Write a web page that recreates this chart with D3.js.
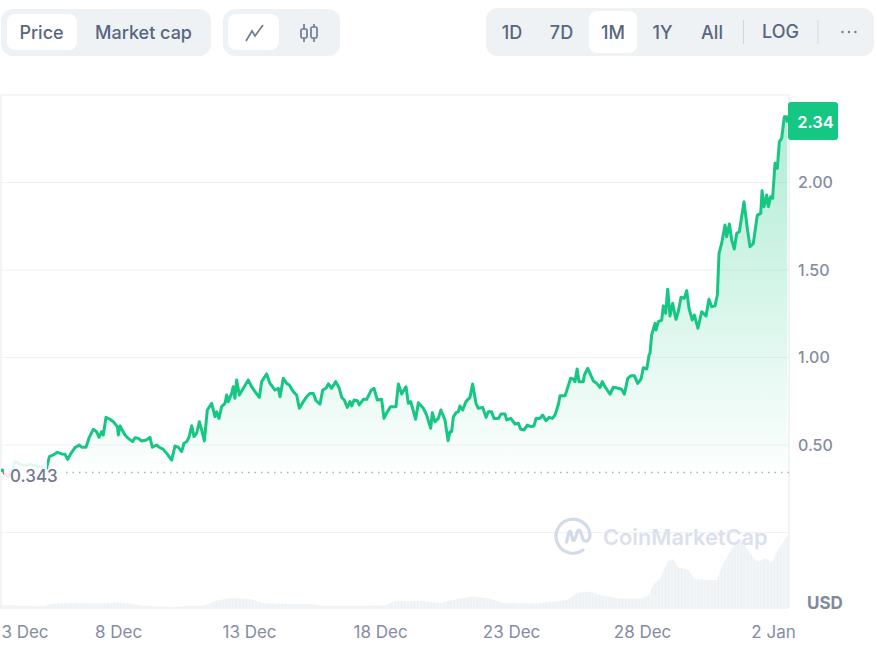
<!DOCTYPE html>
<html>
<head>
<meta charset="utf-8">
<title>price chart</title>
<style>
    html, body { margin: 0; padding: 0; background: #fff; }
    svg { display: block; font-family: Inter, "Noto Sans", sans-serif; }
    .btn { font-size: 18px; font-weight: 500; fill: #58667e; text-anchor: middle; dominant-baseline: central; }
    .tick text { font-family: Inter, "Noto Sans", sans-serif; fill: #858ca2; }
    .tick line, .domain { display: none; }
</style>
</head>
<body>
<svg id="chart" width="877" height="664"></svg>
<script src="https://cdn.jsdelivr.net/npm/d3@7"></script>
<script>
// hours since 3 Dec 00:00
var priceHours = [12,14.3,16.5,19.5,22.6,25.6,30.2,34.8,39.4,44,50,54.6,
    57.1,60.8,64.4,68.4,71.4,73.9,76.9,80.6,84.6,86.7,90.7,93.7,97.4,100.4,102.6,105,106.5,109,112.6,115.7,119.4,120.3,121.8,126.4,129.4,133.4,135.5,138.6,141.7,146.2,149.3,151.4,155.4,157.8,161.5,164.6,169.1,172.2,175.2,178.3,180.4,182.9,185,187.5,189.6,192,194.5,196.6,199.1,201.8,205.8,208.8,210.3,212.5,214.9,218,219.5,221,224.1,225.6,227.1,228.7,231.1,234.8,239.3,242.4,245.5,249.4,251.6,256.1,259.2,263.8,266.8,268.4,271.4,274.5,276.9,280.6,283.6,286.1,
    289.8,292.8,295.9,298.9,301.4,305,307.5,310.5,312.7,315.7,319.4,322.7,324.9,327.3,330,332.5,334,336.2,339.2,341,344.7,347.8,351.7,354.5,357.5,361.5,363.6,366.7,369.7,374.6,376.8,379.8,383.8,385.9,388.1,392.6,395.1,399.7,402.7,403.6,406.4,407.9,410.3,413.4,415.8,419.5,422.3,424.1,425.6,427.1,429.6,431.7,433.2,435.7,438.7,442.4,444.8,447.9,450,454,457.1,459.2,462.2,464.4,468.4,470.8,474.5,476,479.7,483.6,486.7,488.8,491.9,494.9,498,501,502.9,506.5,509,512,515,517.8,520.3,
    523.4,524.9,529.5,531.9,534.6,537.1,538.6,540.5,542.3,546.2,547.2,550.2,553,555.4,558.5,561.5,563.6,566.1,570.7,573.7,578.3,581.4,583.8,586.9,589.9,593,596,599.1,601.2,604.3,606.4,
    607.3,608.8,611.9,612.8,614.9,618,619.5,621.6,623.5,625.6,628,631.1,633.2,635.7,638.7,640.9,643,646,647.9,651.2,654.6,658.6,661.3,663.8,666.8,669,670.5,
    672.9,676,677.5,680,682.1,684.5,686.7,689.1,693.4,696.4,698.9,701.9,705.6,708.7,709.9,711.7,714.2,715.7,717.8,719.6,721.8,723.9,725.8,727.9,730.3,732.5,733.1];
var priceValues = [.352,.357,.334,.319,.348,.405,.391,.38,.391,.38,.376,.367,
    .433,.443,.458,.449,.447,.418,.452,.485,.5,.487,.487,.544,.59,.576,.544,.576,.557,.658,.647,.633,.605,.557,.609,.557,.538,.519,.542,.538,.523,.529,.544,.487,.5,.487,.475,.452,.414,.494,.487,.462,.51,.519,.544,.61,.548,.567,.633,.586,.523,.7,.738,.662,.69,.652,.719,.738,.786,.748,.795,.833,.767,.871,.786,.824,.871,.833,.805,.772,.862,.906,.852,.814,.824,.776,.881,.852,.843,.805,.786,.71,
    .748,.776,.795,.795,.753,.734,.814,.824,.849,.824,.862,.824,.772,.757,.715,.748,.723,.757,.753,.729,.761,.761,.811,.824,.757,.761,.652,.69,.719,.719,.849,.791,.833,.738,.748,.647,.742,.71,.671,.652,.595,.685,.633,.652,.7,.643,.525,.576,.576,.658,.685,.69,.723,.7,.748,.772,.849,.738,.71,.715,.658,.69,.69,.652,.652,.677,.677,.643,.652,.62,.624,.59,.586,.614,.605,.609,.652,.652,.671,.639,.658,.652,.671,
    .733,.782,.782,.828,.881,.877,.862,.934,.862,.862,.9,.938,.9,.866,.852,.828,.862,.833,.79,.83,.824,.818,.79,.881,.896,.896,.852,.877,.942,.934,1.014,
    1.024,1.129,1.195,1.157,1.205,1.214,1.295,1.252,1.39,1.237,1.31,1.218,1.262,1.344,1.338,1.382,1.281,1.214,1.243,1.167,1.262,1.237,1.333,1.29,1.295,1.357,1.595,
    1.652,1.757,1.69,1.763,1.671,1.62,1.71,1.719,1.89,1.738,1.633,1.652,1.814,1.824,1.953,1.862,1.929,1.862,1.919,1.91,2.11,2.081,2.233,2.252,2.376,2.376,2.342];

var volumeHours = [12,25.6,39.4,53.1,57.7,76,103.5,117.2,126.4,140.1,149.3,167.6,181.4,199.7,208.8,222.6,240.9,254.6,295.9,309.6,364.6,373.7,396.6,414.9,424.1,433.2,444.3,460.8,472.7,503.8,531.3,540.5,552.4,561.5,579.8,598.2,605.5,610.1,616.5,623.8,628.4,633,642.2,648.6,659.6,668.7,673.3,683.4,691.6,697.1,703.5,708.1,712.7,719.1,726.5,733.8];
var volumeValues = [4,3.5,3,2.5,5,6,5.5,6.5,6,3.5,3,2,3,3.5,8,11,10,5.5,5,3,3.5,8,8,6,8.5,10.5,12.5,10.5,6,5.5,9,16,17.5,14,10.5,10.5,13,24,31,48,50,42,39,30,29,29,43,63,68,59,49,48,51,47,63,74];

var dayTicks = [0,120,240,360,480,600,720];
var dayLabels = ["3 Dec","8 Dec","13 Dec","18 Dec","23 Dec","28 Dec","2 Jan"];
var priceTicks = [0.5,1,1.5,2];
var gridTicks = [0,0.5,1,1.5,2];
var openPrice = 0.343;
var lastPrice = 2.34;

var typeButtons = ["Price","Market cap"];
var rangeButtons = ["1D","7D","1M","1Y","All"];

var svg = d3.select('#chart');
var x = d3.scaleLinear().domain([0,734.6]).range([-13,789]);
var y = d3.scaleLinear().domain([0,2.5]).range([532.5,95]);
var yVol = d3.scaleLinear().domain([0,100]).range([609,509]);

var defs = svg.append('defs');
var grad = defs.append('linearGradient').attr('id','fillGreen')
    .attr('gradientUnits','userSpaceOnUse').attr('x1',0).attr('x2',0).attr('y1',y(2.38)).attr('y2',y(openPrice));
grad.append('stop').attr('offset',0).attr('stop-color','#16c784').attr('stop-opacity',.34);
grad.append('stop').attr('offset',1).attr('stop-color','#16c784').attr('stop-opacity',.01);
defs.append('clipPath').attr('id','above').append('rect').attr('x',1).attr('y',95).attr('width',788).attr('height',y(openPrice)-95);
defs.append('clipPath').attr('id','below').append('rect').attr('x',1).attr('y',y(openPrice)).attr('width',788).attr('height',100);
// volume bars leave faint vertical bands
var bands = defs.append('pattern').attr('id','volBands').attr('patternUnits','userSpaceOnUse').attr('width',3.3).attr('height',10);
bands.append('rect').attr('width',3.3).attr('height',10).attr('fill','#eff2f5');
bands.append('rect').attr('width',1).attr('height',10).attr('fill','#f5f7f9');

// top buttons
var bar = svg.append('g');
function pill(a,b,w,h,r,fill) {
    return bar.append('rect').attr('x',a).attr('y',b).attr('width',w).attr('height',h).attr('rx',r).attr('fill',fill);
}
pill(1,9,210,47,12,'#eff2f5');
pill(7,14,70,36,8,'#fff');
pill(223,9,117,47,12,'#eff2f5');
pill(228,14,51,36,8,'#fff');
pill(486,8,388,48,12,'#eff2f5');
pill(589,11,48,42,8,'#fff');
bar.selectAll('text.type').data(typeButtons).enter().append('text').attr('class','btn type')
    .attr('x',function(d,i){return [41.5,143.5][i];}).attr('y',32).text(function(d){return d;});
bar.selectAll('text.range').data(rangeButtons).enter().append('text').attr('class','btn range')
    .attr('x',function(d,i){return [512,561.5,613,662.5,712][i];}).attr('y',32).text(function(d){return d;});
bar.append('text').attr('class','btn').attr('x',780.5).attr('y',31.5).text('LOG');
bar.selectAll('line.sep').data([743.5,818]).enter().append('line').attr('class','sep')
    .attr('x1',function(d){return d;}).attr('x2',function(d){return d;}).attr('y1',20).attr('y2',44)
    .attr('stroke','#cfd6e4').attr('stroke-width',1);
bar.selectAll('circle.dot').data([842.5,849,855.5]).enter().append('circle').attr('class','dot')
    .attr('cx',function(d){return d;}).attr('cy',32).attr('r',1.2).attr('fill','#6f7c93');
// line and candle icons
bar.append('path').attr('d','M246 41L252 31L255 36L263 25').attr('fill','none').attr('stroke','#6f7c93').attr('stroke-width',1.7);
bar.append('path').attr('d','M304 24V29M304 38V42M314 24V27M314 38V42').attr('stroke','#6f7c93').attr('stroke-width',1.7);
bar.append('rect').attr('x',301).attr('y',29).attr('width',6).attr('height',9).attr('rx',1.5).attr('fill','none').attr('stroke','#6f7c93').attr('stroke-width',1.7);
bar.append('rect').attr('x',311).attr('y',27).attr('width',6).attr('height',11).attr('rx',1.5).attr('fill','none').attr('stroke','#6f7c93').attr('stroke-width',1.7);

// frame + grid
svg.append('g').selectAll('line').data(gridTicks).enter().append('line')
    .attr('x1',1).attr('x2',789).attr('y1',function(d){return y(d);}).attr('y2',function(d){return y(d);})
    .attr('stroke','#eff2f5').attr('stroke-width',1.2);
svg.append('path').attr('d','M1 608V95H789V608').attr('fill','none').attr('stroke','#e9ebee').attr('stroke-width',1.2);

// volume
var volumeRows = volumeHours.map(function(h,i){return {h:h,v:volumeValues[i]};});
svg.append('path').datum(volumeRows)
    .attr('fill','url(#volBands)')
    .attr('d',d3.area().x(function(d){return Math.max(1,x(d.h));}).y0(yVol(0)).y1(function(d){return yVol(d.v);}));

// watermark
var mark = svg.append('g');
mark.append('path').attr('d','M583 550A17 17 0 1 1 590 535C590 541 585 543 583 539L581 533C580 529 578 529 577 533L575 539C574 541 573 541 572.5 539L571 533C570.5 530 569 531 568.5 534L566.5 542')
    .attr('fill','none').attr('stroke','#d3dbe8').attr('stroke-width',3.2).attr('stroke-linecap','round');
mark.append('text').attr('x',603).attr('y',545).attr('font-size',21.8).attr('font-weight',600).attr('fill','#dbe1ec').text('CoinMarketCap');

// price
var rows = priceHours.map(function(h,i){return {h:h,v:priceValues[i]};});
var area = d3.area().x(function(d){return x(d.h);}).y0(y(openPrice)).y1(function(d){return y(d.v);});
var line = d3.line().x(function(d){return x(d.h);}).y(function(d){return y(d.v);});
svg.append('path').datum(rows).attr('clip-path','url(#above)').attr('fill','url(#fillGreen)').attr('d',area);
svg.append('path').datum(rows).attr('clip-path','url(#above)').attr('fill','none').attr('stroke','#16c784').attr('stroke-width',3).attr('stroke-linejoin','round').attr('d',line);
svg.append('path').datum(rows).attr('clip-path','url(#below)').attr('fill','none').attr('stroke','#ea3943').attr('stroke-width',3).attr('stroke-linejoin','round').attr('d',line);

// open price line and its label, the label washes out the start of the line
svg.append('line').attr('x1',66).attr('x2',789).attr('y1',y(openPrice)).attr('y2',y(openPrice))
    .attr('stroke','#a6b0c3').attr('stroke-width',1.5).attr('stroke-dasharray','1.5 5');
svg.append('rect').attr('x',4).attr('y',448).attr('width',43).attr('height',40).attr('fill','#fff').attr('fill-opacity',.88);
svg.append('text').attr('x',10).attr('y',475.5).attr('dominant-baseline','central').attr('font-size',17).attr('font-weight',500).attr('fill','#6f7890').text(openPrice);

// axes
var yAxis = d3.axisRight(y).tickValues(priceTicks).tickSize(0).tickPadding(0).tickFormat(d3.format('.2f'));
var yG = svg.append('g').attr('transform','translate(798,0)').call(yAxis);
yG.select('.domain').remove();
yG.selectAll('text').attr('font-size',16).attr('font-weight',500);

var xAxis = d3.axisBottom(x).tickValues(dayTicks).tickSize(0).tickPadding(0)
    .tickFormat(function(d,i){return dayLabels[i];});
var xG = svg.append('g').attr('transform','translate(0,626)').call(xAxis);
xG.select('.domain').remove();
xG.selectAll('text').attr('font-size',17).attr('font-weight',400);
// first tick falls off the left edge, keep its label on the page
xG.select('.tick').attr('transform','translate(25,0)');

// last price badge
var tag = svg.append('g');
tag.append('rect').attr('x',788).attr('y',102).attr('width',50).attr('height',38).attr('rx',3).attr('fill','#16c784');
tag.append('text').attr('x',815.5).attr('y',122).attr('text-anchor','middle').attr('dominant-baseline','central')
    .attr('font-size',16.5).attr('font-weight',600).attr('fill','#fff').text(lastPrice);

svg.append('text').attr('x',807).attr('y',603).attr('dominant-baseline','central').attr('font-size',17).attr('font-weight',700).attr('fill','#808a9d').text('USD');
</script>
</body>
</html>
